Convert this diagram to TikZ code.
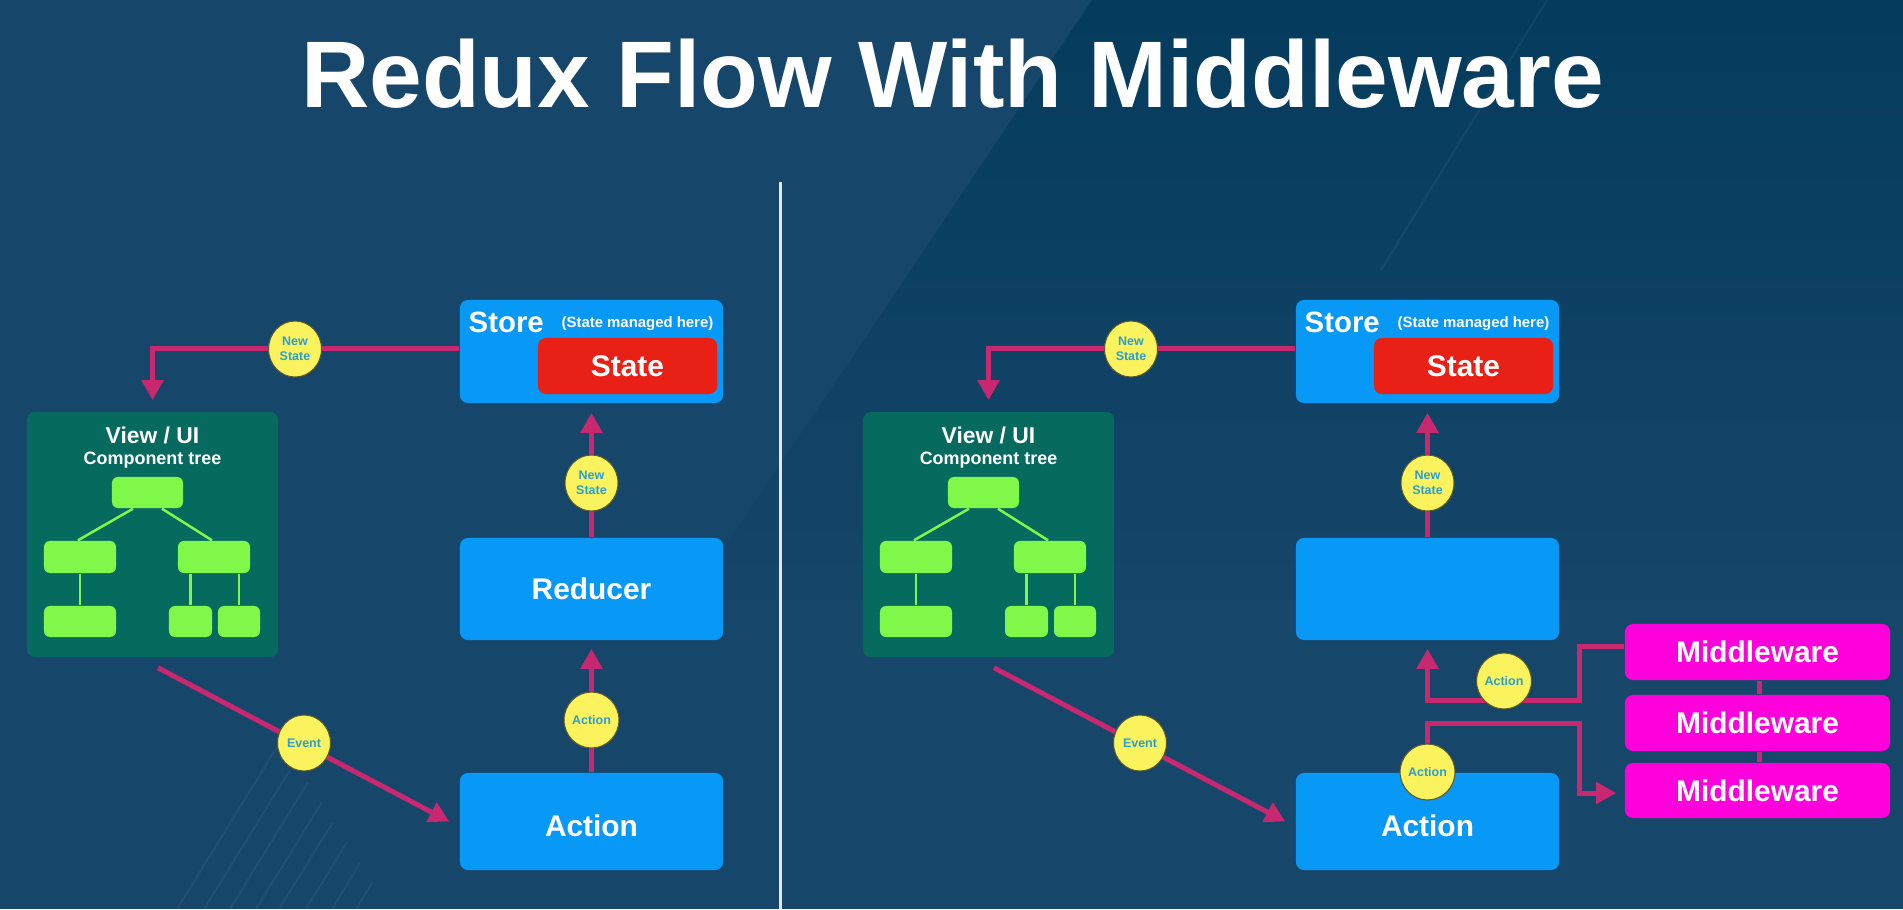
\documentclass[tikz,border=0pt]{standalone}
\usepackage{fontspec}
\setmainfont{Liberation Sans}
\usetikzlibrary{arrows.meta,shapes.geometric,fadings}
\definecolor{bg}{HTML}{16466A}
\definecolor{bgdark}{HTML}{053C5D}
\definecolor{boxblue}{HTML}{0898F5}
\definecolor{statered}{HTML}{E82015}
\definecolor{viewgreen}{HTML}{066A5F}
\definecolor{treegreen}{HTML}{80F84A}
\definecolor{flowc}{HTML}{C8286F}
\definecolor{bubfill}{HTML}{FAF35E}
\definecolor{bubedge}{HTML}{5A5A2A}
\definecolor{bubtext}{HTML}{2A9FD0}
\definecolor{mwpink}{HTML}{FF00DC}
\definecolor{divc}{HTML}{E4E8EE}
\begin{document}
\begin{tikzpicture}[x=0.01cm,y=-0.01cm,
  boxbase/.style={rounded corners=0.08cm, inner sep=0pt, text=white,
    font=\bfseries\fontsize{8.5}{10}\selectfont},
  bluebox/.style={boxbase, fill=boxblue, minimum width=2.63cm},
  redbox/.style={boxbase, fill=statered, minimum width=1.79cm, minimum height=0.56cm},
  mwbox/.style={boxbase, fill=mwpink, minimum width=2.65cm},
  viewbox/.style={rounded corners=0.08cm, fill=viewgreen, minimum width=2.51cm, minimum height=2.45cm, inner sep=0pt},
  treenode/.style={rounded corners=0.06cm, fill=treegreen, inner sep=0pt},
  treeedge/.style={draw=treegreen, line width=0.025cm},
  whitetext/.style={text=white, inner sep=0pt},
  flow/.style={draw=flowc, line width=0.05cm, -{Triangle[length=0.2cm,width=0.21cm]}},
  link/.style={draw=flowc, line width=0.05cm},
  bubble/.style={ellipse, fill=bubfill, draw=bubedge, line width=0.3pt,
    minimum width=0.53cm, minimum height=0.56cm, inner sep=0pt, text=bubtext,
    align=center, font=\bfseries\fontsize{3.55}{4.3}\selectfont},
  lowtext/.style={text height=0.30cm, text depth=0pt},
  faint/.style={draw=white, draw opacity=0.05, line width=0.02cm}]
% background
\fill[bg] (0,0) rectangle (1903,909);
\fill[bgdark, path fading=south] (1092,0) -- (1903,0) -- (1903,600) -- (689,600) -- cycle;
\useasboundingbox (0,0) rectangle (1903,909);
\draw[faint] (1547,0) -- (1381,270);
\foreach \tx/\ty/\bx in {277/747/177, 290/770/204, 308/782/230, 322/802/256, 333/822/279, 347/842/306, 360/863/332, 372/883/356}
  \draw[faint] (\tx,\ty) -- (\bx,909);

% title
\node[whitetext, anchor=base, font=\bfseries\fontsize{26.9}{30}\selectfont] (title) at (952.5,107) {Redux Flow With Middleware};

% divider
\coordinate (divtop) at (780,182);
\coordinate (divbot) at (780,909);
\draw[draw=divc, line width=0.03cm] (divtop) -- (divbot);

% ===== left panel =====
\node[bluebox, minimum height=1.03cm] (store) at (591.5,351.5) {};
\node[redbox] (state) at (627.5,366) {State};
\node[whitetext, anchor=base west, font=\bfseries\fontsize{8.35}{10}\selectfont] (storelbl) at (468,332) {Store};
\node[whitetext, anchor=base east, font=\bfseries\fontsize{4.24}{5}\selectfont] (managed) at (714,327) {(State managed here)};
\node[bluebox, minimum height=1.02cm] (reducer) at (591.5,589) {Reducer};
\node[bluebox, lowtext, minimum height=0.97cm] (action) at (591.5,821.5) {Action};

\node[viewbox] (view) at (152.5,534.5) {};
\node[whitetext, anchor=base, font=\bfseries\fontsize{6.5}{8}\selectfont] (viewt) at (152.5,443) {View / UI};
\node[whitetext, anchor=base, font=\bfseries\fontsize{5.1}{6}\selectfont] (compt) at (152.5,464) {Component tree};
\node[treenode, minimum width=0.71cm, minimum height=0.31cm] (t0) at (147.5,492.5) {};
\node[treenode, minimum width=0.72cm, minimum height=0.32cm] (t1) at (80,557) {};
\node[treenode, minimum width=0.72cm, minimum height=0.32cm] (t2) at (214,557) {};
\node[treenode, minimum width=0.72cm, minimum height=0.31cm] (t3) at (80,621.5) {};
\node[treenode, minimum width=0.43cm, minimum height=0.31cm] (t4) at (190.5,621.5) {};
\node[treenode, minimum width=0.42cm, minimum height=0.31cm] (t5) at (239,621.5) {};
\draw[treeedge] ([xshift=-0.145cm]t0.south) -- ([xshift=-0.02cm]t1.north);
\draw[treeedge] ([xshift=0.145cm]t0.south) -- ([xshift=-0.02cm]t2.north);
\draw[treeedge] (t1.south) -- (t3.north);
\draw[treeedge] (t4.north |- t2.south) -- (t4.north);
\draw[treeedge] (t5.north |- t2.south) -- (t5.north);

\draw[flow] ([yshift=0.035cm]store.west) -| ([yshift=0.11cm]view.north);
\draw[flow] (reducer.north) -- ([yshift=-0.09cm]store.south);
\draw[flow] (action.north) -- ([yshift=-0.08cm]reducer.south);
\draw[flow] ([xshift=0.055cm,yshift=-0.1cm]view.south) -- ([xshift=-0.1cm]action.west);

\node[bubble] (b1) at (295,349) {New\\State};
\node[bubble] (b2) at (591.5,483) {New\\State};
\node[bubble] (b3) at (591.5,720) {Action};
\node[bubble] (b4) at (304,743) {Event};

% ===== right panel =====
\node[bluebox, minimum height=1.03cm] (store2) at (1427.5,351.5) {};
\node[redbox] (state2) at (1463.5,366) {State};
\node[whitetext, anchor=base west, font=\bfseries\fontsize{8.35}{10}\selectfont] (storelbl2) at (1304,332) {Store};
\node[whitetext, anchor=base east, font=\bfseries\fontsize{4.24}{5}\selectfont] (managed2) at (1550,327) {(State managed here)};
\node[bluebox, minimum height=1.02cm] (reducer2) at (1427.5,589) {};
\node[bluebox, lowtext, minimum height=0.97cm] (action2) at (1427.5,821.5) {Action};

\node[viewbox] (view2) at (988.5,534.5) {};
\node[whitetext, anchor=base, font=\bfseries\fontsize{6.5}{8}\selectfont] (viewt2) at (988.5,443) {View / UI};
\node[whitetext, anchor=base, font=\bfseries\fontsize{5.1}{6}\selectfont] (compt2) at (988.5,464) {Component tree};
\node[treenode, minimum width=0.71cm, minimum height=0.31cm] (s0) at (983.5,492.5) {};
\node[treenode, minimum width=0.72cm, minimum height=0.32cm] (s1) at (916,557) {};
\node[treenode, minimum width=0.72cm, minimum height=0.32cm] (s2) at (1050,557) {};
\node[treenode, minimum width=0.72cm, minimum height=0.31cm] (s3) at (916,621.5) {};
\node[treenode, minimum width=0.43cm, minimum height=0.31cm] (s4) at (1026.5,621.5) {};
\node[treenode, minimum width=0.42cm, minimum height=0.31cm] (s5) at (1075,621.5) {};
\draw[treeedge] ([xshift=-0.145cm]s0.south) -- ([xshift=-0.02cm]s1.north);
\draw[treeedge] ([xshift=0.145cm]s0.south) -- ([xshift=-0.02cm]s2.north);
\draw[treeedge] (s1.south) -- (s3.north);
\draw[treeedge] (s4.north |- s2.south) -- (s4.north);
\draw[treeedge] (s5.north |- s2.south) -- (s5.north);

\node[mwbox, minimum height=0.56cm] (mw1) at (1757.5,652) {Middleware};
\node[mwbox, minimum height=0.56cm] (mw2) at (1757.5,723) {Middleware};
\node[mwbox, minimum height=0.55cm] (mw3) at (1757.5,790.5) {Middleware};
\draw[link] ([xshift=0.015cm]mw1.south) -- ([xshift=0.015cm]mw2.north);
\draw[link] ([xshift=0.015cm]mw2.south) -- ([xshift=0.015cm]mw3.north);

\draw[flow] ([yshift=0.035cm]store2.west) -| ([yshift=0.11cm]view2.north);
\draw[flow] (reducer2.north) -- ([yshift=-0.09cm]store2.south);
\draw[flow] ([xshift=0.055cm,yshift=-0.1cm]view2.south) -- ([xshift=-0.1cm]action2.west);
\draw[flow] ([yshift=0.06cm]mw1.west) -- ++(-45,0) |- ([yshift=-0.6cm]reducer2.south) -- ([yshift=-0.08cm]reducer2.south);
\draw[flow] (action2.north) |- ([xshift=-0.45cm]mw2.west) |- ([xshift=-0.08cm,yshift=-0.025cm]mw3.west);

\node[bubble] (b5) at (1131,349) {New\\State};
\node[bubble] (b6) at (1427.5,483) {New\\State};
\node[bubble] (b7) at (1140,743) {Event};
\node[bubble] (b8) at (1504,681) {Action};
\node[bubble] (b9) at (1427.5,772) {Action};
\end{tikzpicture}
\end{document}
